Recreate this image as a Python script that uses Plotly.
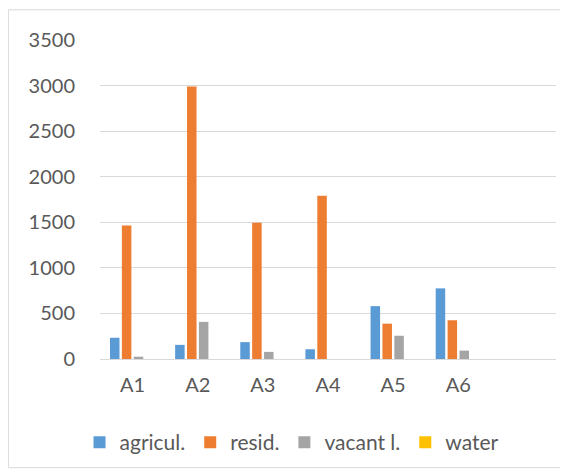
import plotly.graph_objects as go

# --- datos ---
categorias = ["A1", "A2", "A3", "A4", "A5", "A6"]
agricul = [233, 155, 185, 107, 580, 775]
resid = [1465, 2990, 1495, 1790, 388, 425]
vacant = [25, 407, 78, 0, 255, 92]
water = [0, 0, 0, 0, 0, 0]

series = [
    ("agricul.", agricul, "#5b9bd5"),
    ("resid.", resid, "#ed7d31"),
    ("vacant l.", vacant, "#a5a5a5"),
    ("water", water, "#ffc000"),
]

fig = go.Figure()
for nombre, valores, color in series:
    fig.add_trace(go.Bar(
        x=categorias, y=valores, name=nombre,
        marker=dict(color=color, line=dict(width=0)),
    ))

fuente = dict(family="Lato, Open Sans, sans-serif", size=20, color="#595959")
fuente_leyenda = dict(family="Lato, Open Sans, sans-serif", size=21, color="#595959")

# la página añade 8 px de margen al cuerpo
fig.update_layout(
    width=560, height=467,
    paper_bgcolor="white", plot_bgcolor="white",
    margin=dict(l=92, r=12, t=32, b=110),
    barmode="group", bargap=0.27, bargroupgap=0.2,
    font=fuente,
    legend=dict(orientation="h", x=0.42, xanchor="center", y=-0.262, yanchor="middle",
                font=fuente_leyenda, itemwidth=30, traceorder="normal"),
    shapes=[dict(type="rect", xref="paper", yref="paper",
                 x0=-0.2009, x1=1.0246, y0=-0.3407, y1=1.0946,
                 line=dict(color="#d9d9d9", width=1), layer="below")],
)
fig.update_xaxes(
    type="category", categoryarray=categorias, range=[-0.5, 6.5],
    showgrid=False, showline=False, zeroline=False, ticks="",
    tickfont=fuente, ticklabelstandoff=12,
)
fig.update_yaxes(
    range=[0, 3500], dtick=500, showgrid=True, gridcolor="#d9d9d9", gridwidth=1,
    zeroline=True, zerolinecolor="#d9d9d9", zerolinewidth=1,
    showline=False, ticks="", tickfont=fuente, ticklabelstandoff=24,
)

fig.write_html("out.html")
